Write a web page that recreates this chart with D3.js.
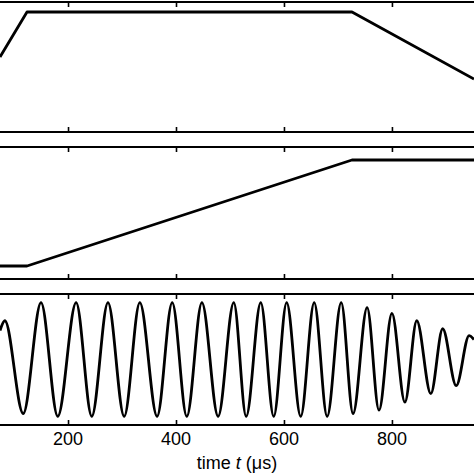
<!DOCTYPE html>
<html><head><meta charset="utf-8">
<script src="https://cdn.jsdelivr.net/npm/d3@7"></script>
<style>body{margin:0;background:#fff}svg{display:block}</style>
</head><body>
<svg id="c" width="474" height="474"></svg>
<script>
const ticks = [200, 400, 600, 800];
const p1T = [74, 124, 726, 952];
const p1V = [0.59, 1, 1, 0.39];
const p2T = [74, 124, 726, 952];
const p2V = [0, 0, 1, 1];
const p3T = [74, 83, 117, 150, 181, 215, 244, 274, 304, 333, 365, 393, 420, 448, 478, 507, 530, 557, 581, 605, 631, 656, 680, 706, 728, 754, 776, 800, 824, 846, 872, 894, 919, 943, 952];
const p3V = [0.51, 0.68, -0.95, 1, -1, 1, -1, 1, -1, 1, -1, 1, -1, 1, -1, 1, -1, 1, -1, 1, -1, 1, -1, 1, -0.95, 0.91, -0.89, 0.81, -0.75, 0.68, -0.6, 0.54, -0.46, 0.42, 0.35];

const svg = d3.select("#c");
const x = d3.scaleLinear().domain([74, 952]).range([0, 474]);
const panels = [
  {top: 2, bot: 132, y: d3.scaleLinear().domain([0, 1]).range([122, 12]), t: p1T, v: p1V, curve: d3.curveLinear},
  {top: 147, bot: 279, y: d3.scaleLinear().domain([0, 1]).range([266, 160]), t: p2T, v: p2V, curve: d3.curveLinear},
  {top: 294, bot: 425, y: d3.scaleLinear().domain([-1.15, 1.15]).range([425, 294]), t: p3T, v: p3V, curve: d3.curveMonotoneX}
];
panels.forEach(p => {
  const g = svg.append("g");
  const line = d3.line().x(d => x(d[0])).y(d => p.y(d[1])).curve(p.curve);
  g.append("path").datum(p.t.map((t, i) => [t, p.v[i]])).attr("d", line)
    .attr("fill", "none").attr("stroke", "#000").attr("stroke-width", 2.8).attr("stroke-linejoin", "round");
  const topAx = d3.axisBottom(x).tickValues(ticks).tickSize(5).tickFormat("");
  const botAx = d3.axisTop(x).tickValues(ticks).tickSize(5).tickFormat("");
  [[topAx, p.top], [botAx, p.bot]].forEach(([ax, yy]) => {
    const a = g.append("g").attr("transform", `translate(0,${yy})`).call(ax);
    a.select(".domain").attr("stroke-width", 2).attr("d", "M0,0H474");
    a.selectAll(".tick line").attr("stroke-width", 1.6);
  });
});
svg.append("g").selectAll("text").data(ticks).join("text")
  .attr("x", d => x(d)).attr("y", 445).attr("text-anchor", "middle")
  .attr("font-family", "Liberation Sans, Arial, sans-serif").attr("font-size", 18).text(d => d);
const lab = svg.append("text").attr("x", 237).attr("y", 469).attr("text-anchor", "middle")
  .attr("font-family", "Liberation Sans, Arial, sans-serif").attr("font-size", 18);
lab.append("tspan").text("time ");
lab.append("tspan").attr("font-style", "italic").text("t");
lab.append("tspan").text(" (μs)");
</script>
</body></html>
